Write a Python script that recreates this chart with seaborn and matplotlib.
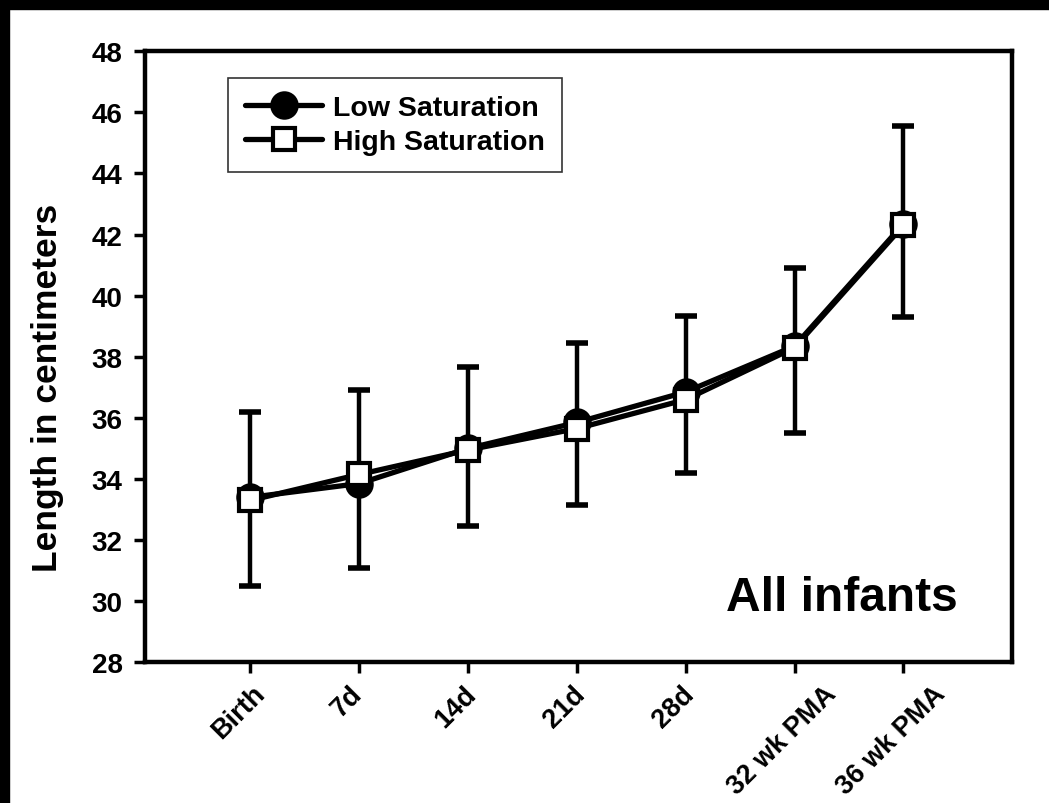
import numpy as np
import pandas as pd
import seaborn as sns
import matplotlib.pyplot as plt
from matplotlib.patches import Rectangle
from matplotlib.transforms import ScaledTranslation

# Временные точки
timepoints = ['Birth', '7d', '14d', '21d', '28d', '32 wk PMA', '36 wk PMA']

# Средние значения (см)
low_mean = [33.4, 33.85, 35.0, 35.85, 36.85, 38.35, 42.35]
high_mean = [33.3, 34.15, 34.95, 35.65, 36.6, 38.3, 42.3]

# Границы полос ошибок (нижняя / верхняя)
err_lo = [30.5, 31.1, 32.45, 33.15, 34.2, 35.5, 39.3]
err_hi = [36.2, 36.9, 37.65, 38.45, 39.35, 40.9, 45.55]

pos = list(range(len(timepoints)))
df = pd.DataFrame({
    'pos': pos * 2,
    'length': low_mean + high_mean,
    'group': ['Low Saturation'] * len(pos) + ['High Saturation'] * len(pos),
})

sns.set_style('ticks')
plt.rcParams['font.family'] = ['Liberation Sans', 'DejaVu Sans']
plt.rcParams['font.weight'] = 'bold'
for k in ['text.color', 'axes.labelcolor', 'xtick.color', 'ytick.color', 'axes.edgecolor']:
    plt.rcParams[k] = 'black'

fig = plt.figure(figsize=(10.49, 8.04), dpi=100)
ax = fig.add_axes([0.138, 0.175, 0.827, 0.76])

# Полосы ошибок
yerr = [np.array(high_mean) - np.array(err_lo), np.array(err_hi) - np.array(high_mean)]
ax.errorbar(pos, high_mean, yerr=yerr, fmt='none', ecolor='black',
            elinewidth=3.2, capsize=8, capthick=4, zorder=1)

sns.lineplot(data=df, x='pos', y='length', hue='group', style='group',
             palette={'Low Saturation': 'black', 'High Saturation': 'black'},
             markers={'Low Saturation': 'o', 'High Saturation': 's'},
             dashes=False, linewidth=3.8, ax=ax, zorder=3,
             markersize=17.5, markeredgewidth=3, markeredgecolor='black')

# Белая заливка для квадратов
for line in ax.get_lines():
    if line.get_marker() == 's':
        line.set_markerfacecolor('white')
        line.set_markersize(16)

ax.set_xlim(-0.97, 7.0)
ax.set_ylim(28, 48)
ax.set_yticks(range(28, 49, 2))
ax.set_xticks(pos)
ax.tick_params(axis='y', labelsize=20, width=2.5, length=8, pad=8)
ax.tick_params(axis='x', width=2.5, length=8, pad=5)
ax.set_xticklabels(timepoints, rotation=45, ha='center', va='top',
                   fontsize=19.5, fontweight='bold')
# Сдвиг подписей влево (после tick_params, иначе сбрасывается)
shift = ScaledTranslation(-0.12, 0, fig.dpi_scale_trans)
for lab in ax.get_xticklabels():
    lab.set_transform(lab.get_transform() + shift)
for lab in ax.get_yticklabels():
    lab.set_fontweight('bold')
for s in ax.spines.values():
    s.set_linewidth(3.2)
    s.set_visible(True)

ax.set_xlabel('')
ax.set_ylabel('Length in centimeters', fontsize=25.5, fontweight='bold')
ax.yaxis.set_label_coords(-0.093, 0.45)

ax.text(0.937, 0.106, 'All infants', transform=ax.transAxes, ha='right', va='center',
        fontsize=34.5, fontweight='bold')

leg = ax.legend(loc='upper left', bbox_to_anchor=(0.096, 0.957), fontsize=20.5,
                frameon=True, fancybox=False, edgecolor='black',
                handlelength=2.7, borderpad=0.6, labelspacing=0.3, handletextpad=0.4,
                borderaxespad=0)
leg.get_frame().set_linewidth(1.2)
for t in leg.get_texts():
    t.set_fontweight('bold')
for h in leg.get_lines():
    h.set_linewidth(3.8)
    if h.get_marker() == 's':
        h.set_markerfacecolor('white')

# Тёмные края скана
fig.patches.append(Rectangle((0, 0.988), 1, 0.012, transform=fig.transFigure,
                             color='black', zorder=0))
fig.patches.append(Rectangle((0, 0), 0.009, 1, transform=fig.transFigure,
                             color='black', zorder=0))

plt.savefig('out.png', dpi=100)
